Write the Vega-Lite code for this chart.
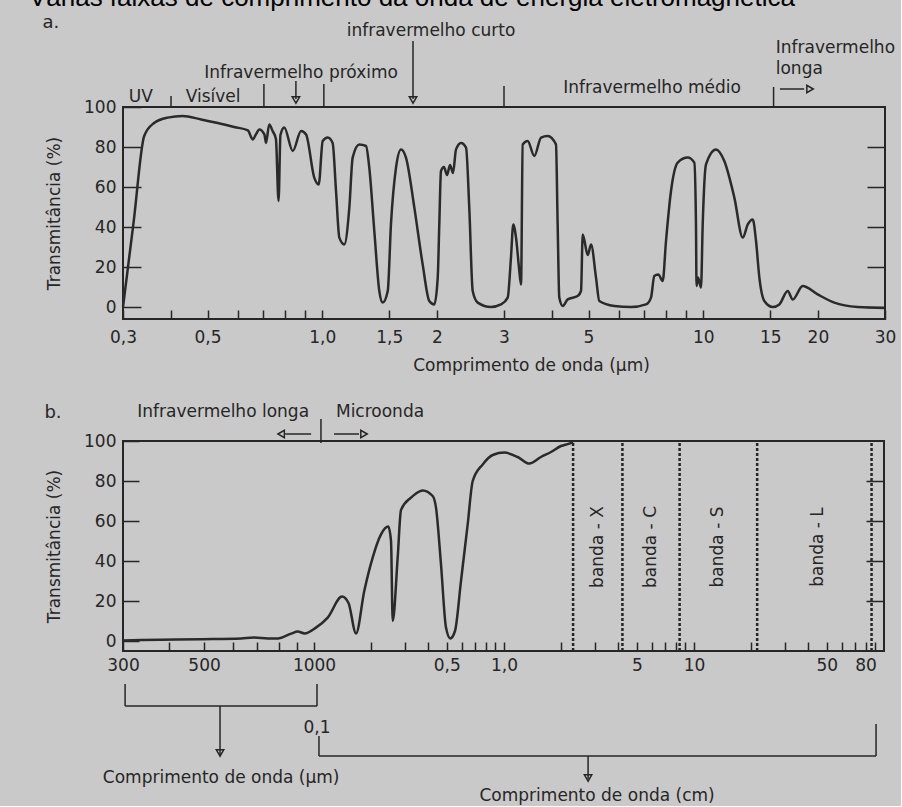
{
  "$schema": "https://vega.github.io/schema/vega-lite/v6.json",
  "background": "#c9c9c9",
  "padding": {"left": 27, "top": -16, "right": 4, "bottom": 1},
  "autosize": {"type": "pad"},
  "config": {
    "view": {"stroke": "#262626", "strokeWidth": 2},
    "font": "DejaVu Sans",
    "axis": {"grid": false, "domain": false, "labelFont": "DejaVu Sans", "labelFontSize": 17, "labelColor": "#262626", "titleFont": "DejaVu Sans", "titleFontSize": 17, "titleFontWeight": "normal", "titleColor": "#262626", "tickColor": "#262626", "tickWidth": 1.5, "labelFlush": false, "labelOverlap": false},
    "text": {"font": "DejaVu Sans", "fontSize": 17, "color": "#262626"}
  },
  "spacing": 122,
  "bounds": "flush",
  "vconcat": [
    {
      "width": 762,
      "height": 212,
      "resolve": {"axis": {"y": "independent"}},
      "encoding": {
        "x": {"field": "lam", "type": "quantitative",
          "scale": {"type": "log", "domain": [0.3, 30], "nice": false},
          "axis": {"orient": "bottom", "values": [0.3,0.4,0.5,0.6,0.7,0.8,0.9,1,1.5,2,3,4,5,6,7,8,9,10,15,20,30],
            "labelExpr": "datum.value == 0.3 ? '0,3' : datum.value == 0.5 ? '0,5' : datum.value == 1 ? '1,0' : datum.value == 1.5 ? '1,5' : indexof([2,3,5,10,15,20,30], datum.value) >= 0 ? '' + datum.value : ''",
            "tickSize": -9, "labelPadding": 19, "title": "Comprimento de onda (µm)", "titleX": 408, "titlePadding": 12}
        }
      },
      "layer": [
        {
          "data": {"values": [
            {"lam":0.300,"T":0},{"lam":0.320,"T":42.7},{"lam":0.341,"T":85.5},{"lam":0.362,"T":92},{"lam":0.393,"T":94.7},{"lam":0.430,"T":95.5},{"lam":0.481,"T":93.8},{"lam":0.532,"T":92},{"lam":0.588,"T":90},{"lam":0.638,"T":88.3},{"lam":0.657,"T":83.8},{"lam":0.670,"T":86.3},{"lam":0.684,"T":88.8},{"lam":0.705,"T":86.3},{"lam":0.712,"T":82},{"lam":0.726,"T":91.3},{"lam":0.741,"T":88},{"lam":0.756,"T":84},{"lam":0.768,"T":53},{"lam":0.777,"T":86},{"lam":0.795,"T":89.7},{"lam":0.837,"T":78},{"lam":0.880,"T":88},{"lam":0.907,"T":86.3},{"lam":0.953,"T":64.7},{"lam":0.979,"T":61.3},{"lam":1.003,"T":83},{"lam":1.034,"T":84.7},{"lam":1.065,"T":82},{"lam":1.087,"T":58},{"lam":1.109,"T":34.7},{"lam":1.143,"T":31.3},{"lam":1.178,"T":49.7},{"lam":1.202,"T":74.7},{"lam":1.251,"T":81.3},{"lam":1.303,"T":80.5},{"lam":1.329,"T":69.7},{"lam":1.370,"T":38},{"lam":1.412,"T":8},{"lam":1.441,"T":2.2},{"lam":1.486,"T":8},{"lam":1.515,"T":41.3},{"lam":1.562,"T":69.7},{"lam":1.610,"T":78.8},{"lam":1.659,"T":74.7},{"lam":1.745,"T":49.7},{"lam":1.835,"T":21.3},{"lam":1.910,"T":3},{"lam":1.969,"T":1.3},{"lam":2.010,"T":14.7},{"lam":2.029,"T":41.3},{"lam":2.050,"T":68},{"lam":2.087,"T":70},{"lam":2.126,"T":66},{"lam":2.165,"T":71},{"lam":2.204,"T":67},{"lam":2.245,"T":78.8},{"lam":2.314,"T":82},{"lam":2.385,"T":79.7},{"lam":2.432,"T":49.7},{"lam":2.483,"T":8},{"lam":2.559,"T":2.2},{"lam":2.774,"T":0},{"lam":2.946,"T":1.3},{"lam":3.068,"T":4.7},{"lam":3.129,"T":24.7},{"lam":3.173,"T":41.3},{"lam":3.226,"T":34.7},{"lam":3.291,"T":18},{"lam":3.325,"T":11.3},{"lam":3.359,"T":81.3},{"lam":3.462,"T":83},{"lam":3.603,"T":75.5},{"lam":3.753,"T":84.7},{"lam":3.907,"T":85.5},{"lam":4.107,"T":81.3},{"lam":4.149,"T":41.3},{"lam":4.190,"T":4.7},{"lam":4.278,"T":0.5},{"lam":4.409,"T":3.8},{"lam":4.683,"T":5.5},{"lam":4.778,"T":8},{"lam":4.828,"T":36.3},{"lam":4.977,"T":26},{"lam":5.076,"T":31.3},{"lam":5.231,"T":14.7},{"lam":5.337,"T":3},{"lam":5.843,"T":0.5},{"lam":6.463,"T":0},{"lam":7.077,"T":1.3},{"lam":7.294,"T":4.7},{"lam":7.441,"T":15.5},{"lam":7.623,"T":16.3},{"lam":7.828,"T":13},{"lam":7.986,"T":33},{"lam":8.231,"T":58},{"lam":8.571,"T":72.2},{"lam":9.104,"T":74.7},{"lam":9.477,"T":72.2},{"lam":9.572,"T":41.3},{"lam":9.603,"T":10.5},{"lam":9.691,"T":14.7},{"lam":9.868,"T":9.7},{"lam":9.968,"T":41},{"lam":10.17,"T":71.3},{"lam":10.80,"T":78.8},{"lam":11.36,"T":73},{"lam":12.07,"T":54.7},{"lam":12.70,"T":34.7},{"lam":13.09,"T":41.3},{"lam":13.49,"T":43.8},{"lam":13.76,"T":33},{"lam":14.04,"T":14.7},{"lam":14.47,"T":3},{"lam":15.22,"T":0},{"lam":15.84,"T":1.3},{"lam":16.66,"T":8},{"lam":17.18,"T":3.8},{"lam":18.24,"T":10.5},{"lam":19.97,"T":6.3},{"lam":22.08,"T":2.2},{"lam":25.44,"T":0},{"lam":30,"T":-0.5}
          ]},
          "mark": {"type": "line", "color": "#2a2a2a", "strokeWidth": 2.5, "interpolate": "monotone"},
          "encoding": {
            "y": {"field": "T", "type": "quantitative", "scale": {"domain": [-6, 100], "nice": false, "zero": false},
              "axis": {"orient": "left", "values": [0,20,40,60,80,100], "tickSize": -18, "labelPadding": 25, "title": "Transmitância (%)", "titlePadding": 20}}
          }
        },
        {
          "data": {"values": [
            {"lam":0.401,"lam2":0.401,"T":105.5,"T2":99.5},
            {"lam":0.703,"lam2":0.703,"T":111.5,"T2":99.5},
            {"lam":1.01,"lam2":1.01,"T":111.5,"T2":99.5},
            {"lam":3.0,"lam2":3.0,"T":110.5,"T2":99.5},
            {"lam":15.3,"lam2":15.3,"T":110,"T2":99.5},
            {"lam":0.853,"lam2":0.853,"T":113,"T2":104},
            {"lam":1.731,"lam2":1.731,"T":133,"T2":104},
            {"lam":15.9,"lam2":18.4,"T":109,"T2":109}
          ]},
          "mark": {"type": "rule", "color": "#262626", "strokeWidth": 1.5},
          "encoding": {
            "x2": {"field": "lam2"},
            "y": {"field": "T", "type": "quantitative", "axis": {"orient": "right", "values": [0,20,40,60,80], "labels": false, "tickSize": -18, "title": null}},
            "y2": {"field": "T2"}
          }
        },
        {
          "data": {"values": [{"lam":0.853,"T":103.5},{"lam":1.731,"T":103.5}]},
          "mark": {"type": "point", "shape": "triangle-down", "filled": false, "stroke": "#262626", "strokeWidth": 1.5, "size": 55, "opacity": 1},
          "encoding": {"y": {"field": "T", "type": "quantitative", "axis": null}}
        },
        {
          "data": {"values": [{"lam":19.07,"T":109}]},
          "mark": {"type": "point", "shape": "triangle-right", "filled": false, "stroke": "#262626", "strokeWidth": 1.5, "size": 55, "opacity": 1},
          "encoding": {"y": {"field": "T", "type": "quantitative", "axis": null}}
        },
        {
          "data": {"values": [
            {"lam":0.334,"T":105,"label":"UV"},
            {"lam":0.517,"T":105,"label":"Visível"},
            {"lam":0.88,"T":117,"label":"Infravermelho próximo"},
            {"lam":1.93,"T":138,"label":"infravermelho curto"},
            {"lam":7.34,"T":109.5,"label":"Infravermelho médio"}
          ]},
          "mark": {"type": "text", "align": "center", "baseline": "middle"},
          "encoding": {"y": {"field": "T", "type": "quantitative", "axis": null}, "text": {"field": "label"}}
        },
        {
          "data": {"values": [
            {"lam":15.5,"T":129.5,"label":"Infravermelho"},
            {"lam":15.5,"T":119,"label":"longa"}
          ]},
          "mark": {"type": "text", "align": "left", "baseline": "middle"},
          "encoding": {"y": {"field": "T", "type": "quantitative", "axis": null}, "text": {"field": "label"}}
        },
        {
          "data": {"values": [{"lam":0.194,"T":142,"label":"a."}]},
          "mark": {"type": "text", "align": "center", "baseline": "middle", "fontSize": 18},
          "encoding": {"y": {"field": "T", "type": "quantitative", "axis": null}, "text": {"field": "label"}}
        },
        {
          "data": {"values": [{"lam":1.72,"T":150.5,"label":"Várias faixas de comprimento da onda de energia eletromagnética"}]},
          "mark": {"type": "text", "align": "center", "baseline": "alphabetic", "font": "Liberation Sans", "fontSize": 26, "color": "#000000"},
          "encoding": {"y": {"field": "T", "type": "quantitative", "axis": null}, "text": {"field": "label"}}
        }
      ]
    },
    {
      "width": 761,
      "height": 210,
      "resolve": {"axis": {"y": "independent"}},
      "encoding": {
        "x": {"field": "cm", "type": "quantitative",
          "scale": {"type": "log", "domain": [0.03, 0.1, 100], "range": [0, 191, 761], "nice": false},
          "axis": {"orient": "bottom", "values": [0.03,0.04,0.05,0.06,0.07,0.08,0.09,0.1,0.2,0.3,0.4,0.5,0.6,0.7,0.8,0.9,1,2,3,4,5,6,7,8,9,10,20,30,40,50,60,70,80,90],
            "labelExpr": "datum.value == 0.03 ? '300' : datum.value == 0.05 ? '500' : datum.value == 0.1 ? '1000' : datum.value == 0.5 ? '0,5' : datum.value == 1 ? '1,0' : indexof([5,10,50,80], datum.value) >= 0 ? '' + datum.value : ''",
            "tickSize": -9, "labelPadding": 15, "title": null}
        }
      },
      "layer": [
        {
          "data": {"values": [
            {"cm":0.030,"T":0.3},{"cm":0.0381,"T":0.6},{"cm":0.0491,"T":0.9},{"cm":0.0632,"T":1.3},{"cm":0.0686,"T":1.7},{"cm":0.0747,"T":1.3},{"cm":0.0796,"T":1.3},{"cm":0.0866,"T":3.7},{"cm":0.0903,"T":4.7},{"cm":0.0942,"T":3.8},{"cm":0.1024,"T":6.7},{"cm":0.1181,"T":11.7},{"cm":0.1404,"T":22.2},{"cm":0.1519,"T":19},{"cm":0.1664,"T":3.8},{"cm":0.1839,"T":25},{"cm":0.2036,"T":41.7},{"cm":0.2253,"T":53.3},{"cm":0.2461,"T":57.2},{"cm":0.2543,"T":50},{"cm":0.2596,"T":10},{"cm":0.2757,"T":41.7},{"cm":0.2870,"T":65.5},{"cm":0.3240,"T":71.7},{"cm":0.3734,"T":75.3},{"cm":0.4215,"T":72.5},{"cm":0.4386,"T":66.7},{"cm":0.4660,"T":38.3},{"cm":0.4951,"T":6.7},{"cm":0.5217,"T":1.3},{"cm":0.5522,"T":5},{"cm":0.5938,"T":30},{"cm":0.6440,"T":58.3},{"cm":0.6844,"T":80},{"cm":0.7727,"T":88.3},{"cm":0.8722,"T":93},{"cm":1.0037,"T":94.2},{"cm":1.1806,"T":92},{"cm":1.359,"T":88.7},{"cm":1.565,"T":92},{"cm":1.768,"T":94.5},{"cm":1.995,"T":97.5},{"cm":2.207,"T":98.7},{"cm":2.308,"T":99.5}
          ]},
          "mark": {"type": "line", "color": "#2a2a2a", "strokeWidth": 2.5, "interpolate": "monotone"},
          "encoding": {
            "y": {"field": "T", "type": "quantitative", "scale": {"domain": [-5, 100], "nice": false, "zero": false},
              "axis": {"orient": "left", "values": [0,20,40,60,80,100], "tickSize": -16, "labelPadding": 23, "title": "Transmitância (%)", "titlePadding": 20}}
          }
        },
        {
          "data": {"values": [
            {"cm":2.31,"T":-5,"T2":99.5},{"cm":4.2,"T":-5,"T2":99.5},{"cm":8.4,"T":-5,"T2":99.5},{"cm":21.5,"T":-5,"T2":99.5},{"cm":86,"T":-5,"T2":99.5}
          ]},
          "mark": {"type": "rule", "color": "#262626", "strokeWidth": 2.5, "strokeDash": [3, 2]},
          "encoding": {
            "y": {"field": "T", "type": "quantitative", "axis": {"orient": "right", "values": [20,40,60,80], "labels": false, "tickSize": -18, "title": null}},
            "y2": {"field": "T2"}
          }
        },
        {
          "data": {"values": [
            {"cm":3.12,"T":47,"label":"banda - X"},{"cm":5.94,"T":47,"label":"banda - C"},{"cm":13.4,"T":47,"label":"banda - S"},{"cm":44.9,"T":47,"label":"banda - L"}
          ]},
          "mark": {"type": "text", "angle": 270, "align": "center", "baseline": "middle", "fontSize": 17},
          "encoding": {"y": {"field": "T", "type": "quantitative", "axis": null}, "text": {"field": "label"}}
        },
        {
          "data": {"values": [
            {"cm":0.1088,"cm2":0.1088,"T":111,"T2":99},
            {"cm":0.0834,"cm2":0.0982,"T":103.5,"T2":103.5},
            {"cm":0.1274,"cm2":0.1725,"T":103.5,"T2":103.5},
            {"cm":0.0304,"cm2":0.0304,"T":-21.5,"T2":-32.5},
            {"cm":0.1037,"cm2":0.1037,"T":-21.5,"T2":-32.5},
            {"cm":0.0304,"cm2":0.1037,"T":-32.5,"T2":-32.5},
            {"cm":0.0553,"cm2":0.0553,"T":-32.5,"T2":-57},
            {"cm":0.1062,"cm2":0.1062,"T":-47.5,"T2":-57.5},
            {"cm":0.1062,"cm2":90.8,"T":-57.5,"T2":-57.5},
            {"cm":90.8,"cm2":90.8,"T":-41.5,"T2":-57.5},
            {"cm":2.77,"cm2":2.77,"T":-57.5,"T2":-69}
          ]},
          "mark": {"type": "rule", "color": "#262626", "strokeWidth": 1.5},
          "encoding": {
            "x2": {"field": "cm2"},
            "y": {"field": "T", "type": "quantitative", "axis": null},
            "y2": {"field": "T2"}
          }
        },
        {
          "data": {"values": [{"cm":0.0813,"T":103.5}]},
          "mark": {"type": "point", "shape": "triangle-left", "filled": false, "stroke": "#262626", "strokeWidth": 1.5, "size": 55, "opacity": 1},
          "encoding": {"y": {"field": "T", "type": "quantitative", "axis": null}}
        },
        {
          "data": {"values": [{"cm":0.1833,"T":103.5}]},
          "mark": {"type": "point", "shape": "triangle-right", "filled": false, "stroke": "#262626", "strokeWidth": 1.5, "size": 55, "opacity": 1},
          "encoding": {"y": {"field": "T", "type": "quantitative", "axis": null}}
        },
        {
          "data": {"values": [{"cm":0.0553,"T":-56},{"cm":2.77,"T":-68.5}]},
          "mark": {"type": "point", "shape": "triangle-down", "filled": false, "stroke": "#262626", "strokeWidth": 1.5, "size": 55, "opacity": 1},
          "encoding": {"y": {"field": "T", "type": "quantitative", "axis": null}}
        },
        {
          "data": {"values": [
            {"cm":0.0564,"T":114.5,"label":"Infravermelho longa"},
            {"cm":0.2226,"T":114.5,"label":"Microonda"},
            {"cm":0.1037,"T":-43.5,"label":"0,1"},
            {"cm":0.0557,"T":-68.5,"label":"Comprimento de onda (µm)"},
            {"cm":3.09,"T":-77.5,"label":"Comprimento de onda (cm)"}
          ]},
          "mark": {"type": "text", "align": "center", "baseline": "middle"},
          "encoding": {"y": {"field": "T", "type": "quantitative", "axis": null}, "text": {"field": "label"}}
        },
        {
          "data": {"values": [{"cm":0.0193,"T":114,"label":"b."}]},
          "mark": {"type": "text", "align": "center", "baseline": "middle", "fontSize": 18},
          "encoding": {"y": {"field": "T", "type": "quantitative", "axis": null}, "text": {"field": "label"}}
        }
      ]
    }
  ]
}
